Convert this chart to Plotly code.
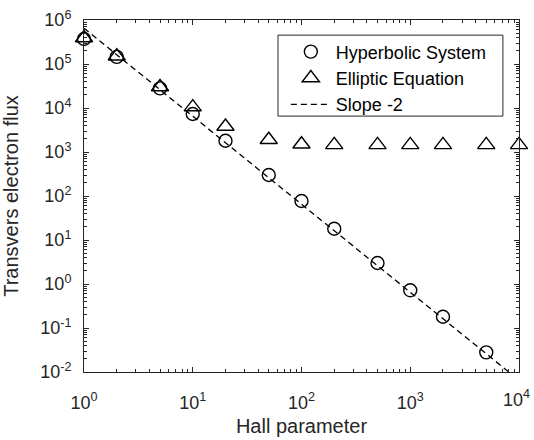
import plotly.graph_objects as go

hall_hyp = [1, 2, 5, 10, 20, 50, 100, 200, 500, 1000, 2000, 5000]
flux_hyp = [3.7e5, 1.45e5, 2.8e4, 7.3e3, 1.8e3, 300, 77, 18, 3.0, 0.72, 0.18, 0.028]

hall_ell = [1, 2, 5, 10, 20, 50, 100, 200, 500, 1000, 2000, 5000, 10000]
flux_ell = [3.9e5, 1.5e5, 3.0e4, 1.05e4, 3.8e3, 1.9e3, 1.5e3, 1.45e3, 1.45e3, 1.45e3, 1.45e3, 1.45e3, 1.45e3]

slope_x = [1, 1e4]
slope_coef = 6.5e5
slope_y = [slope_coef * v ** -2 for v in slope_x]

x_major = [1, 10, 100, 1000, 10000]
x_major_text = ["10<sup>0</sup>", "10<sup>1</sup>", "10<sup>2</sup>", "10<sup>3</sup>", "10<sup>4</sup>"]
y_major = [1e-2, 1e-1, 1, 10, 100, 1e3, 1e4, 1e5, 1e6]
y_major_text = ["10<sup>-2</sup>", "10<sup>-1</sup>", "10<sup>0</sup>", "10<sup>1</sup>", "10<sup>2</sup>",
                "10<sup>3</sup>", "10<sup>4</sup>", "10<sup>5</sup>", "10<sup>6</sup>"]

x_minor = [m * 10 ** e for e in range(0, 4) for m in range(2, 10)]
y_minor = [m * 10.0 ** e for e in range(-2, 6) for m in range(2, 10)]

FONT = "Liberation Sans, Arial, Helvetica, sans-serif"
INK = "#262626"

fig = go.Figure()
fig.add_trace(go.Scatter(
    x=hall_hyp, y=flux_hyp, mode="markers", name="Hyperbolic System",
    marker=dict(symbol="circle-open", size=13, color="black", line=dict(width=1.4, color="black")),
    cliponaxis=False,
))
fig.add_trace(go.Scatter(
    x=hall_ell, y=flux_ell, mode="markers", name="Elliptic Equation",
    marker=dict(symbol="triangle-up-open", size=15, color="black", line=dict(width=1.4, color="black")),
    cliponaxis=False,
))
fig.add_trace(go.Scatter(
    x=slope_x, y=slope_y, mode="lines", name="Slope -2",
    line=dict(color="black", width=1.3, dash="6px,4px"),
))

axis_common = dict(
    type="log", showgrid=False, zeroline=False, automargin=False,
    showline=True, linecolor=INK, linewidth=1, mirror="ticks",
    ticks="inside", ticklen=5, tickcolor=INK, tickwidth=1,
    tickfont=dict(family=FONT, size=18, color=INK),
    ticklabeloverflow="allow",
)

# last x label is drawn as an annotation, nudged left so it stays inside the page
x_tick_text_axis = x_major_text[:-1] + [""]

fig.update_xaxes(
    **axis_common, range=[0, 4],
    tickvals=x_major, ticktext=x_tick_text_axis, ticklabelstandoff=14,
    minor=dict(tickvals=x_minor, ticks="inside", ticklen=3, tickcolor=INK),
    title=dict(text="Hall parameter", font=dict(family=FONT, size=20, color=INK), standoff=7),
)
fig.update_yaxes(
    **axis_common, range=[-2, 6],
    tickvals=y_major, ticktext=y_major_text, ticklabelstandoff=8,
    minor=dict(tickvals=y_minor, ticks="inside", ticklen=3, tickcolor=INK),
    title=dict(text="Transvers electron flux", font=dict(family=FONT, size=20, color=INK), standoff=18),
)

fig.add_annotation(
    x=4, xref="x", y=0, yref="paper",
    text=x_major_text[-1], showarrow=False,
    xanchor="center", yanchor="top", xshift=-3, yshift=-13,
    font=dict(family=FONT, size=18, color=INK),
)

fig.add_shape(
    type="rect", xref="paper", yref="paper",
    x0=0.446, x1=0.963, y0=0.727, y1=0.957,
    line=dict(color=INK, width=1), fillcolor="white", layer="above",
)

fig.update_layout(
    width=534, height=440,
    margin=dict(l=84, r=15, t=20, b=68),
    paper_bgcolor="white", plot_bgcolor="white",
    showlegend=True,
    legend=dict(
        x=0.464, y=0.962, xanchor="left", yanchor="top",
        borderwidth=0, bgcolor="rgba(0,0,0,0)",
        font=dict(family=FONT, size=18, color="black"),
        tracegroupgap=0, itemwidth=40,
    ),
)

fig.write_html(
    "out.html",
    config={"displayModeBar": False},
    post_script="document.body.style.margin='0';document.body.style.overflow='hidden';",
)
